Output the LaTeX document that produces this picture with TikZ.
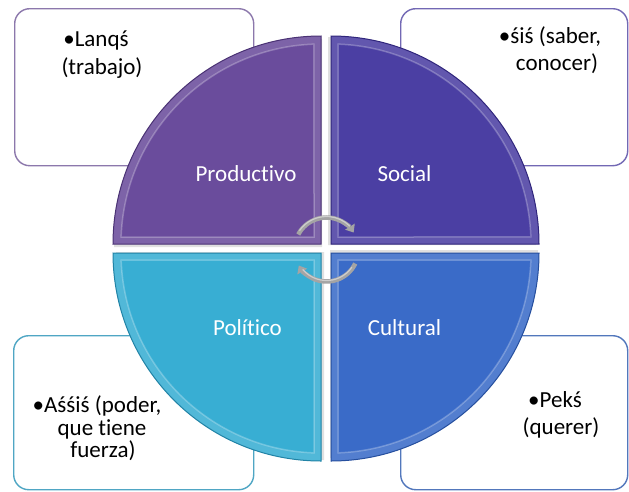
\documentclass[tikz,border=0pt]{standalone}
\usepackage{fontspec}
\setmainfont{Carlito}[Ligatures={NoCommon}]
\usetikzlibrary{arrows.meta}

\definecolor{prodbase}{HTML}{6A4C9C}
\definecolor{prodedge}{HTML}{4A3274}
\definecolor{socbase}{HTML}{4B3FA3}
\definecolor{socedge}{HTML}{30267C}
\definecolor{polbase}{HTML}{38AED3}
\definecolor{poledge}{HTML}{2183A6}
\definecolor{culbase}{HTML}{3A6BC8}
\definecolor{culedge}{HTML}{264F9E}
\definecolor{boxtl}{HTML}{8C78AC}
\definecolor{boxtr}{HTML}{7268B4}
\definecolor{boxbl}{HTML}{4FA6C4}
\definecolor{boxbr}{HTML}{5277BC}
\definecolor{arrowgrey}{HTML}{A4A4A4}

\tikzset{
  infobox/.style={draw, line width=1.4pt, rounded corners=15pt, fill=white, inner sep=0pt},
  infotext/.style={font=\fontsize{23}{28}\selectfont, text=black, inner sep=0pt, anchor=base},
  quadlabel/.style={font=\fontsize{23}{28}\selectfont, text=white, inner sep=0pt, anchor=base},
  cyclearrow/.style={draw=arrowgrey, line width=4.5pt, -{Triangle[width=11pt,length=7pt]}},
}

% #1 corner, #2 rotation, #3 base colour, #4 edge colour
\newcommand\drawquad[4]{%
  \begin{scope}[shift={#1},rotate=#2]
    \fill[black,opacity=0.12] (1,-3) -- (-207,-3) arc[start angle=180,end angle=90,radius=208pt] -- cycle;
    \fill[#3] (0,0) -- (-208,0) arc[start angle=180,end angle=90,radius=208pt] -- cycle;
    \fill[white,opacity=0.13,even odd rule]
      (0,0) -- (-208,0) arc[start angle=180,end angle=90,radius=208pt] -- cycle
      (-7,7) -- (-199.88,7) arc[start angle=177.99,end angle=92.01,radius=200pt] -- cycle;
    \draw[white,opacity=0.25,line width=1.5pt]
      (-7,7) -- (-199.88,7) arc[start angle=177.99,end angle=92.01,radius=200pt] -- cycle;
    \draw[#4,line width=1pt] (0,0) -- (-208,0) arc[start angle=180,end angle=90,radius=208pt] -- cycle;
  \end{scope}}

\begin{document}
\begin{tikzpicture}[x=1pt,y=1pt]
\useasboundingbox (0,0) rectangle (629,-491);
\fill[white] (0,0) rectangle (629,-491);

% info boxes
\node[infobox, draw=boxtl, minimum width=239pt, minimum height=157pt, anchor=north west] (boxTL) at (14,-8) {};
\node[infobox, draw=boxtr, minimum width=227pt, minimum height=157pt, anchor=north west] (boxTR) at (400,-8) {};
\node[infobox, draw=boxbl, minimum width=240pt, minimum height=154pt, anchor=north west] (boxBL) at (13,-335) {};
\node[infobox, draw=boxbr, minimum width=227pt, minimum height=154pt, anchor=north west] (boxBR) at (400,-335) {};

% quadrants
\drawquad{(321,-244)}{0}{prodbase}{prodedge}
\drawquad{(331,-244)}{-90}{socbase}{socedge}
\drawquad{(321,-253)}{90}{polbase}{poledge}
\drawquad{(331,-253)}{180}{culbase}{culedge}

% quadrant labels
\node[quadlabel] (qProd) at (246,-181) {Productivo};
\node[quadlabel] (qSoc) at (404.5,-181) {Social};
\node[quadlabel] (qPol) at (247.5,-335) {Político};
\node[quadlabel] (qCul) at (404.5,-335) {Cultural};

% box texts
\node[infotext] (tTL1) at (96,-46) {•Lanqś};
\node[infotext] (tTL2) at (102,-74) {(trabajo)};
\node[infotext] (tTR1) at (550,-43) {•śiś (saber,};
\node[infotext] (tTR2) at (557,-70) {conocer)};
\node[infotext] (tBL1) at (97,-412) {•Aśśiś (poder,};
\node[infotext] (tBL2) at (102,-435) {que tiene};
\node[infotext] (tBL3) at (103,-457) {fuerza)};
\node[infotext] (tBR1) at (555,-407) {•Pekś};
\node[infotext] (tBR2) at (561,-434) {(querer)};

% cycle arrows
\coordinate (cc) at (326.5,-249.5);
\coordinate (a1s) at ([shift={(152:32pt)}]cc);
\coordinate (a2s) at ([shift={(-26:32pt)}]cc);
\draw[cyclearrow] (a1s) arc[start angle=152,end angle=32,radius=32pt];
\draw[cyclearrow] (a2s) arc[start angle=-26,end angle=-150,radius=32pt];
\draw[white,opacity=0.45,line width=1.2pt] ([shift={(145:33pt)}]cc) arc[start angle=145,end angle=45,radius=33pt];
\draw[white,opacity=0.45,line width=1.2pt] ([shift={(-35:31pt)}]cc) arc[start angle=-35,end angle=-140,radius=31pt];
\end{tikzpicture}
\end{document}
